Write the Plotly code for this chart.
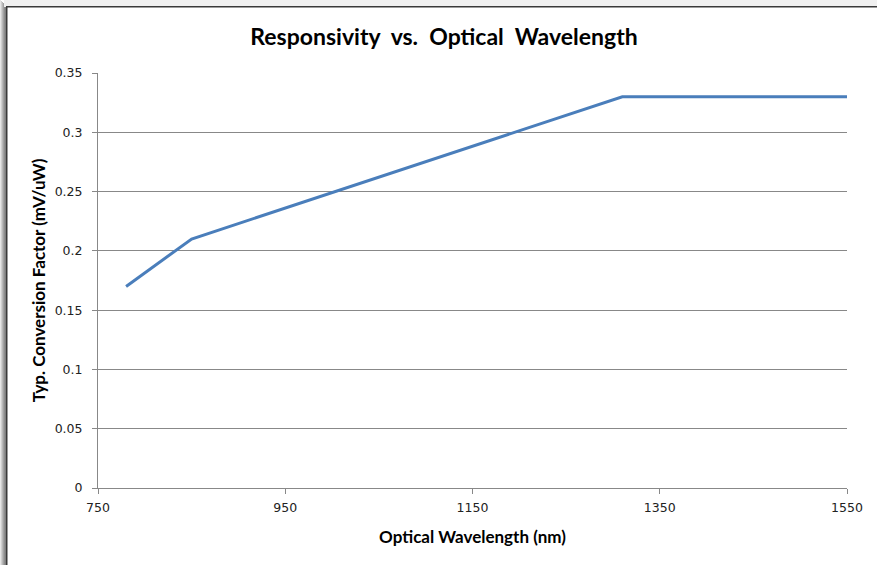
import plotly.graph_objects as go

wavelength_nm = [780, 850, 1310, 1550]
conversion_factor = [0.17, 0.21, 0.33, 0.33]
x_ticks = [750, 950, 1150, 1350, 1550]
y_ticks = [0, 0.05, 0.1, 0.15, 0.2, 0.25, 0.3, 0.35]
y_tick_labels = ["0", "0.05", "0.1", "0.15", "0.2", "0.25", "0.3", "0.35"]

W, H = 877, 565
L, R, T, B = 98, 847, 73, 488

def px(x):
    return (x - L) / (R - L)

def py(y):
    return (B - y) / (B - T)

fig = go.Figure()
fig.add_trace(go.Scatter(
    x=wavelength_nm, y=conversion_factor, mode="lines",
    line=dict(color="#4A7EBB", width=3), hoverinfo="x+y", showlegend=False))

tickfont = dict(family="DejaVu Sans", size=12.5, color="#222")
titlefont = "Lato, Carlito, Open Sans"
grid = "#888888"

fig.update_layout(
    width=W, height=H,
    margin=dict(l=L, r=W - R, t=T, b=H - B),
    paper_bgcolor="white", plot_bgcolor="white",
    title=dict(text="<b>Responsivity  vs.  Optical  Wavelength</b>",
               font=dict(family=titlefont, size=23, color="#000"),
               x=444 / W, xref="container", xanchor="center",
               y=1 - 37 / H, yref="container", yanchor="middle"),
    xaxis=dict(range=[750, 1550], tickvals=x_ticks, ticktext=[str(v) for v in x_ticks],
               showgrid=False, zeroline=False, showline=True, linecolor=grid, linewidth=1,
               ticks="outside", ticklen=5, tickcolor=grid, tickfont=tickfont,
               ticklabelstandoff=3,
               title=dict(text="<b>Optical Wavelength (nm)</b>", standoff=17,
                          font=dict(family=titlefont, size=17, color="#000"))),
    yaxis=dict(range=[0, 0.35], tickvals=y_ticks, ticktext=y_tick_labels,
               showgrid=True, gridcolor=grid, gridwidth=1, zeroline=False,
               showline=True, linecolor=grid, linewidth=1,
               ticks="outside", ticklen=5, tickcolor=grid, tickfont=tickfont,
               ticklabelstandoff=7,
               title=dict(text="<b>Typ. Conversion Factor (mV/uW)</b>", standoff=4,
                          font=dict(family=titlefont, size=17, color="#000"))),
)

# window frame: left shadow gradient, top strip and dark border
shadow_cols = ["#e6e6e6", "#cfcfcf", "#b8b8b8", "#a2a2a2", "#8e8e8e", "#7e7e7e"]
for i, c in enumerate(shadow_cols):
    fig.add_shape(type="rect", xref="paper", yref="paper",
                  x0=px(i), x1=px(i + 1), y0=py(H), y1=py(7 if i >= 4 else i),
                  fillcolor=c, line=dict(width=0), layer="above")
fig.add_shape(type="rect", xref="paper", yref="paper",
              x0=px(4), x1=px(W), y0=py(7), y1=py(0),
              fillcolor="#f0f0f0", line=dict(width=0), layer="above")
fig.add_shape(type="rect", xref="paper", yref="paper",
              x0=px(6), x1=px(7.5), y0=py(H), y1=py(6),
              fillcolor="#3a3a3a", line=dict(width=0), layer="above")
fig.add_shape(type="rect", xref="paper", yref="paper",
              x0=px(6), x1=px(W), y0=py(7.5), y1=py(6),
              fillcolor="#3a3a3a", line=dict(width=0), layer="above")

fig.write_html("out.html", config={"displayModeBar": False},
               post_script="document.body.style.margin='0';")
